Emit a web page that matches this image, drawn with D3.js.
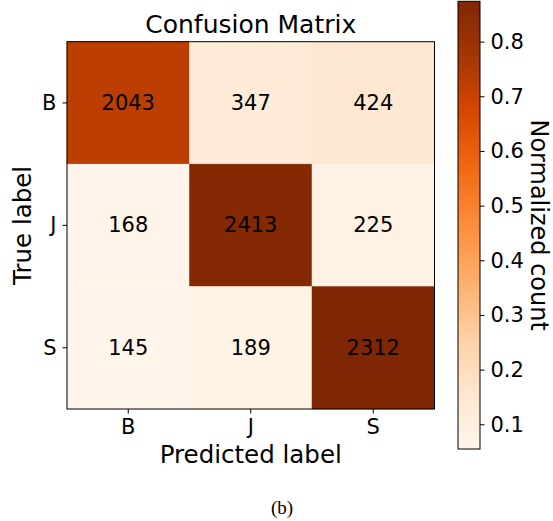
<!DOCTYPE html>
<html>
<head>
<meta charset="utf-8">
<script src="https://cdn.jsdelivr.net/npm/d3@7"></script>
<style>
  html, body { margin: 0; padding: 0; background: #fff; }
  svg { display: block; }
  text { font-family: "DejaVu Sans", sans-serif; fill: #000; }
</style>
</head>
<body>
<svg id="chart" width="553" height="521"></svg>
<script>
// Class names (rows = true label, columns = predicted label)
const classes = ["B", "J", "S"];
// Raw counts per true class
const countsB = [2043, 347, 424];
const countsJ = [168, 2413, 225];
const countsS = [145, 189, 2312];
const counts = [countsB, countsJ, countsS];
// Colour bar tick values
const cbarTicks = [0.1, 0.2, 0.3, 0.4, 0.5, 0.6, 0.7, 0.8];
// "Oranges" colour ramp anchor colours
const orangeStops = ["#fff5eb", "#fee6ce", "#fdd0a2", "#fdae6b", "#fd8d3c",
                     "#f16913", "#d94801", "#a63603", "#7f2704"];

// Row-normalised values
const norm = counts.map(row => {
  const s = d3.sum(row);
  return row.map(v => v / s);
});
const flat = norm.flat();
const vmin = d3.min(flat), vmax = d3.max(flat);

const ramp = d3.scaleLinear()
  .domain(d3.range(orangeStops.length).map(i => i / (orangeStops.length - 1)))
  .range(orangeStops)
  .interpolate(d3.interpolateRgb)
  .clamp(true);
const color = v => ramp((v - vmin) / (vmax - vmin));

const svg = d3.select("#chart");

// Heatmap area
const plot = { left: 67, right: 434.5, top: 41.7, bottom: 409 };
const x = d3.scaleBand().domain(classes).range([plot.left, plot.right]);
const y = d3.scaleBand().domain(classes).range([plot.top, plot.bottom]);

const cells = [];
classes.forEach((r, i) => classes.forEach((c, j) => {
  cells.push({ row: r, col: c, count: counts[i][j], value: norm[i][j] });
}));

svg.append("g").selectAll("rect").data(cells).join("rect")
  .attr("x", d => x(d.col))
  .attr("y", d => y(d.row))
  .attr("width", x.bandwidth())
  .attr("height", y.bandwidth())
  .attr("fill", d => color(d.value))
  .attr("stroke", d => color(d.value))
  .attr("stroke-width", 0.5);

svg.append("g").selectAll("text").data(cells).join("text")
  .attr("x", d => x(d.col) + x.bandwidth() / 2)
  .attr("y", d => y(d.row) + y.bandwidth() / 2)
  .attr("text-anchor", "middle")
  .attr("dominant-baseline", "central")
  .style("font-size", "21px")
  .text(d => d.count);

// Frame around the heatmap
svg.append("rect")
  .attr("x", plot.left).attr("y", plot.top)
  .attr("width", plot.right - plot.left)
  .attr("height", plot.bottom - plot.top)
  .attr("fill", "none")
  .attr("stroke", "#000")
  .attr("stroke-width", 1);

// Axes
const xAxis = d3.axisBottom(x).tickSize(4.5).tickPadding(6);
const yAxis = d3.axisLeft(y).tickSize(4.5).tickPadding(6);

const gx = svg.append("g").attr("transform", `translate(0,${plot.bottom})`).call(xAxis);
const gy = svg.append("g").attr("transform", `translate(${plot.left},0)`).call(yAxis);
[gx, gy].forEach(g => {
  g.select(".domain").remove();
  g.selectAll(".tick line").attr("stroke", "#000").attr("stroke-width", 1);
  g.selectAll(".tick text")
    .style("font-family", "DejaVu Sans, sans-serif")
    .style("font-size", "21px")
    .attr("fill", "#000");
});

// Title and axis labels
svg.append("text")
  .attr("x", (plot.left + plot.right) / 2)
  .attr("y", 33)
  .attr("text-anchor", "middle")
  .style("font-size", "25px")
  .text("Confusion Matrix");

svg.append("text")
  .attr("x", (plot.left + plot.right) / 2)
  .attr("y", 463)
  .attr("text-anchor", "middle")
  .style("font-size", "24.5px")
  .text("Predicted label");

svg.append("text")
  .attr("transform", `translate(31,${(plot.top + plot.bottom) / 2}) rotate(-90)`)
  .attr("text-anchor", "middle")
  .style("font-size", "24.5px")
  .text("True label");

// Colour bar
const cb = { left: 458, right: 480, top: 1.3, bottom: 449 };
const cy = d3.scaleLinear().domain([vmin, vmax]).range([cb.bottom, cb.top]);

const grad = svg.append("defs").append("linearGradient")
  .attr("id", "cbar-grad")
  .attr("x1", 0).attr("y1", 1).attr("x2", 0).attr("y2", 0);
d3.range(0, 1.0001, 1 / 64).forEach(t => {
  grad.append("stop")
    .attr("offset", t)
    .attr("stop-color", ramp(t));
});

svg.append("rect")
  .attr("x", cb.left).attr("y", cb.top)
  .attr("width", cb.right - cb.left)
  .attr("height", cb.bottom - cb.top)
  .attr("fill", "url(#cbar-grad)")
  .attr("stroke", "#000")
  .attr("stroke-width", 1);

const cAxis = d3.axisRight(cy).tickValues(cbarTicks).tickFormat(d3.format(".1f"))
  .tickSize(4.5).tickPadding(6);
const gc = svg.append("g").attr("transform", `translate(${cb.right},0)`).call(cAxis);
gc.select(".domain").remove();
gc.selectAll(".tick line").attr("stroke", "#000").attr("stroke-width", 1);
gc.selectAll(".tick text")
  .style("font-family", "DejaVu Sans, sans-serif")
  .style("font-size", "21px")
  .attr("fill", "#000");

svg.append("text")
  .attr("transform", `translate(531,${(cb.top + cb.bottom) / 2}) rotate(90)`)
  .attr("text-anchor", "middle")
  .style("font-size", "24px")
  .text("Normalized count");

// Sub-figure caption
svg.append("text")
  .attr("x", 282)
  .attr("y", 514)
  .attr("text-anchor", "middle")
  .style("font-family", "Liberation Serif, Times New Roman, serif")
  .style("font-size", "19px")
  .text("(b)");
</script>
</body>
</html>
